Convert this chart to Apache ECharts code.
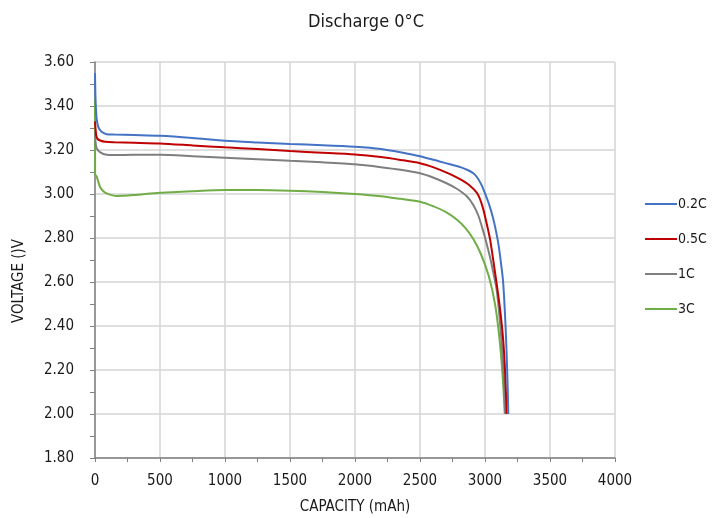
<!DOCTYPE html>
<html>
<head>
<meta charset="utf-8">
<script src="https://cdn.jsdelivr.net/npm/echarts@6/dist/echarts.min.js"></script>
<style>
  html, body { margin: 0; padding: 0; background: #fff; }
  #chart { width: 726px; height: 518px; }
</style>
</head>
<body>
<div id="chart"></div>
<script>
// capacity (mAh) / voltage (V)
const cap02 = [0, 3, 8, 13, 25, 50, 90, 150, 300, 500, 750, 1000, 1250, 1500, 1750, 2000, 2200, 2350, 2500, 2650, 2730, 2810, 2870, 2910, 2940, 2970, 3000, 3030, 3060, 3085, 3105, 3122, 3138, 3148, 3158, 3166, 3172, 3176, 3179];
const volt02 = [3.55, 3.45, 3.38, 3.34, 3.305, 3.283, 3.272, 3.27, 3.268, 3.265, 3.255, 3.242, 3.234, 3.227, 3.222, 3.215, 3.205, 3.19, 3.172, 3.148, 3.135, 3.122, 3.108, 3.094, 3.075, 3.045, 3.003, 2.955, 2.895, 2.83, 2.765, 2.69, 2.61, 2.52, 2.40, 2.28, 2.17, 2.08, 2.0];

const cap05 = [0, 5, 10, 20, 40, 80, 150, 300, 500, 750, 1000, 1250, 1500, 1750, 2000, 2200, 2350, 2500, 2600, 2700, 2800, 2880, 2940, 2980, 3015, 3040, 3078, 3113, 3140, 3155, 3167];
const volt05 = [3.33, 3.29, 3.265, 3.25, 3.243, 3.237, 3.235, 3.233, 3.23, 3.221, 3.212, 3.204, 3.195, 3.188, 3.18, 3.168, 3.155, 3.14, 3.122, 3.098, 3.07, 3.04, 3.003, 2.945, 2.86, 2.79, 2.64, 2.49, 2.336, 2.186, 2.0];

const cap1 = [0, 5, 13, 38, 90, 150, 300, 500, 750, 1000, 1250, 1500, 1750, 2000, 2200, 2350, 2500, 2600, 2700, 2780, 2860, 2910, 2950, 2987, 3010, 3038, 3065, 3090, 3115, 3136, 3148, 3155];
const volt1 = [3.28, 3.23, 3.208, 3.19, 3.178, 3.177, 3.178, 3.178, 3.172, 3.165, 3.158, 3.151, 3.144, 3.135, 3.122, 3.11, 3.094, 3.075, 3.05, 3.025, 2.99, 2.95, 2.9, 2.83, 2.78, 2.715, 2.64, 2.564, 2.42, 2.26, 2.13, 2.0];

const cap3 = [0, 1, 13, 38, 60, 90, 167, 295, 500, 750, 1000, 1250, 1500, 1750, 2000, 2200, 2350, 2500, 2600, 2700, 2780, 2850, 2910, 2970, 3030, 3077, 3110, 3136, 3152];
const volt3 = [3.44, 3.09, 3.079, 3.033, 3.015, 3.003, 2.991, 2.995, 3.006, 3.013, 3.018, 3.018, 3.015, 3.009, 3.0, 2.99, 2.978, 2.965, 2.945, 2.918, 2.885, 2.845, 2.795, 2.725, 2.625, 2.5, 2.35, 2.17, 2.0];

const seriesNames = ['0.2C', '0.5C', '1C', '3C'];
const colors = ['#4472C4', '#C00000', '#7F7F7F', '#70AD47'];

const font = "'Liberation Sans Narrow', 'DejaVu Sans Condensed', sans-serif";

function pairs(xs, ys) {
  return xs.map((x, i) => [x, ys[i]]);
}

const chart = echarts.init(document.getElementById('chart'));

const curves = [pairs(cap02, volt02), pairs(cap05, volt05), pairs(cap1, volt1), pairs(cap3, volt3)];

const option = {
  animation: false,
  textStyle: { fontFamily: font },
  title: {
    text: 'Discharge 0°C',
    left: 361,
    top: 8,
    textAlign: 'center',
    textStyle: { fontFamily: font, fontSize: 18, fontWeight: 'normal', color: '#1a1a1a' },
  },
  legend: {
    orient: 'vertical',
    left: 640,
    top: 192,
    itemWidth: 32,
    itemHeight: 14,
    itemGap: 21,
    icon: 'path://M0,6 L32,6 L32,8 L0,8 Z',
    textStyle: { fontFamily: font, fontSize: 14, color: '#1a1a1a', padding: [0, 0, 0, -4] },
    data: seriesNames,
  },
  grid: { left: 95, right: 111, top: 62, bottom: 60, outerBoundsMode: 'none' },
  xAxis: {
    type: 'value',
    min: 0,
    max: 4000,
    interval: 500,
    name: 'CAPACITY (mAh)',
    nameLocation: 'middle',
    nameGap: 42,
    nameTextStyle: { fontFamily: font, fontSize: 15, color: '#1a1a1a' },
    axisLine: { show: true, lineStyle: { color: '#808080', width: 1.5 } },
    axisTick: { show: true, length: 4, lineStyle: { color: '#808080' } },
    minorTick: { show: true, splitNumber: 2, length: 4, lineStyle: { color: '#808080' } },
    axisLabel: { fontFamily: font, fontSize: 15, color: '#1a1a1a', margin: 16, formatter: (v) => String(v) },
    splitLine: { show: true, lineStyle: { color: '#d4d4d4', width: 1.5 } },
  },
  yAxis: {
    type: 'value',
    min: 1.8,
    max: 3.6,
    interval: 0.2,
    name: 'VOLTAGE ()V',
    nameLocation: 'middle',
    nameGap: 68,
    nameRotate: 90,
    nameTextStyle: { fontFamily: font, fontSize: 15, color: '#1a1a1a', padding: [0, 42, 0, 0] },
    axisLine: { show: true, lineStyle: { color: '#808080', width: 1.5 } },
    axisTick: { show: true, length: 5, lineStyle: { color: '#808080' } },
    minorTick: { show: true, splitNumber: 2, length: 5, lineStyle: { color: '#808080' } },
    axisLabel: {
      fontFamily: font,
      fontSize: 15,
      color: '#1a1a1a',
      margin: 21,
      formatter: (v) => v.toFixed(2),
    },
    splitLine: { show: true, lineStyle: { color: '#d4d4d4', width: 1.5 } },
  },
  series: curves.map((d, i) => ({
    name: seriesNames[i],
    type: 'line',
    data: d,
    showSymbol: false,
    smooth: 0.25,
    lineStyle: { color: colors[i], width: 2 },
    itemStyle: { color: colors[i] },
    z: 10 - i,
  })),
};

chart.setOption(option);
</script>
</body>
</html>
